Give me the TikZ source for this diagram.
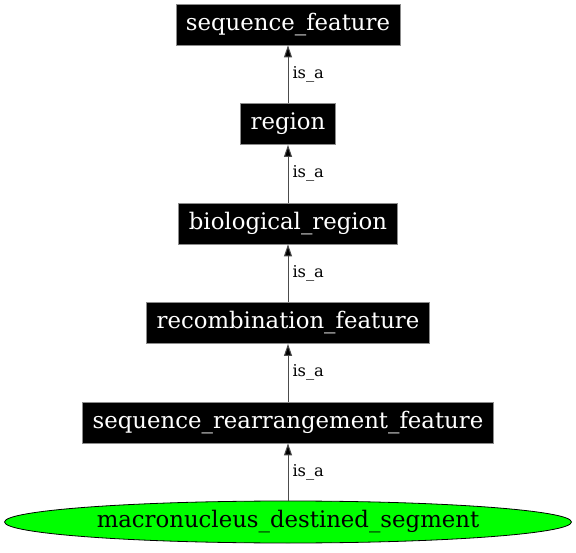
\documentclass[tikz,border=0pt]{standalone}
\usepackage{fontspec}
\setmainfont{DejaVu Serif}
\usetikzlibrary{shapes.geometric,arrows.meta}
\begin{document}
\begin{tikzpicture}[x=1pt,y=-1pt,
  termbox/.style={rectangle,fill=black,draw=black!45,line width=0.8pt,text=white,
    font=\fontsize{22.8}{27}\selectfont,minimum height=41pt,inner xsep=10pt,inner ysep=0pt},
  termell/.style={ellipse,fill=green,draw=black,line width=0.8pt,text=black,
    font=\fontsize{22.8}{27}\selectfont,minimum width=567pt,minimum height=42pt,inner sep=0pt},
  isa/.style={draw=black!70,line width=1pt,-{Triangle[length=12pt,width=8pt,fill=black]}},
  lbl/.style={font=\fontsize{16.3}{19}\selectfont,anchor=west,inner sep=0pt}]
\useasboundingbox (0,0) rectangle (576,553);
\node[termbox] (sf) at (288,24.5) {sequence\_feature};
\node[termbox] (rg) at (288,124) {region};
\node[termbox] (br) at (288,223.5) {biological\_region};
\node[termbox] (rf) at (288,323) {recombination\_feature};
\node[termbox] (srf) at (288,422.5) {sequence\_rearrangement\_feature};
\node[termell] (mds) at (288,522) {macronucleus\_destined\_segment};
\draw[isa] (rg) -- (sf) node[lbl,midway,xshift=4pt] {is\_a};
\draw[isa] (br) -- (rg) node[lbl,midway,xshift=4pt] {is\_a};
\draw[isa] (rf) -- (br) node[lbl,midway,xshift=4pt] {is\_a};
\draw[isa] (srf) -- (rf) node[lbl,midway,xshift=4pt] {is\_a};
\draw[isa] (mds) -- (srf) node[lbl,midway,xshift=4pt] {is\_a};
\end{tikzpicture}
\end{document}
